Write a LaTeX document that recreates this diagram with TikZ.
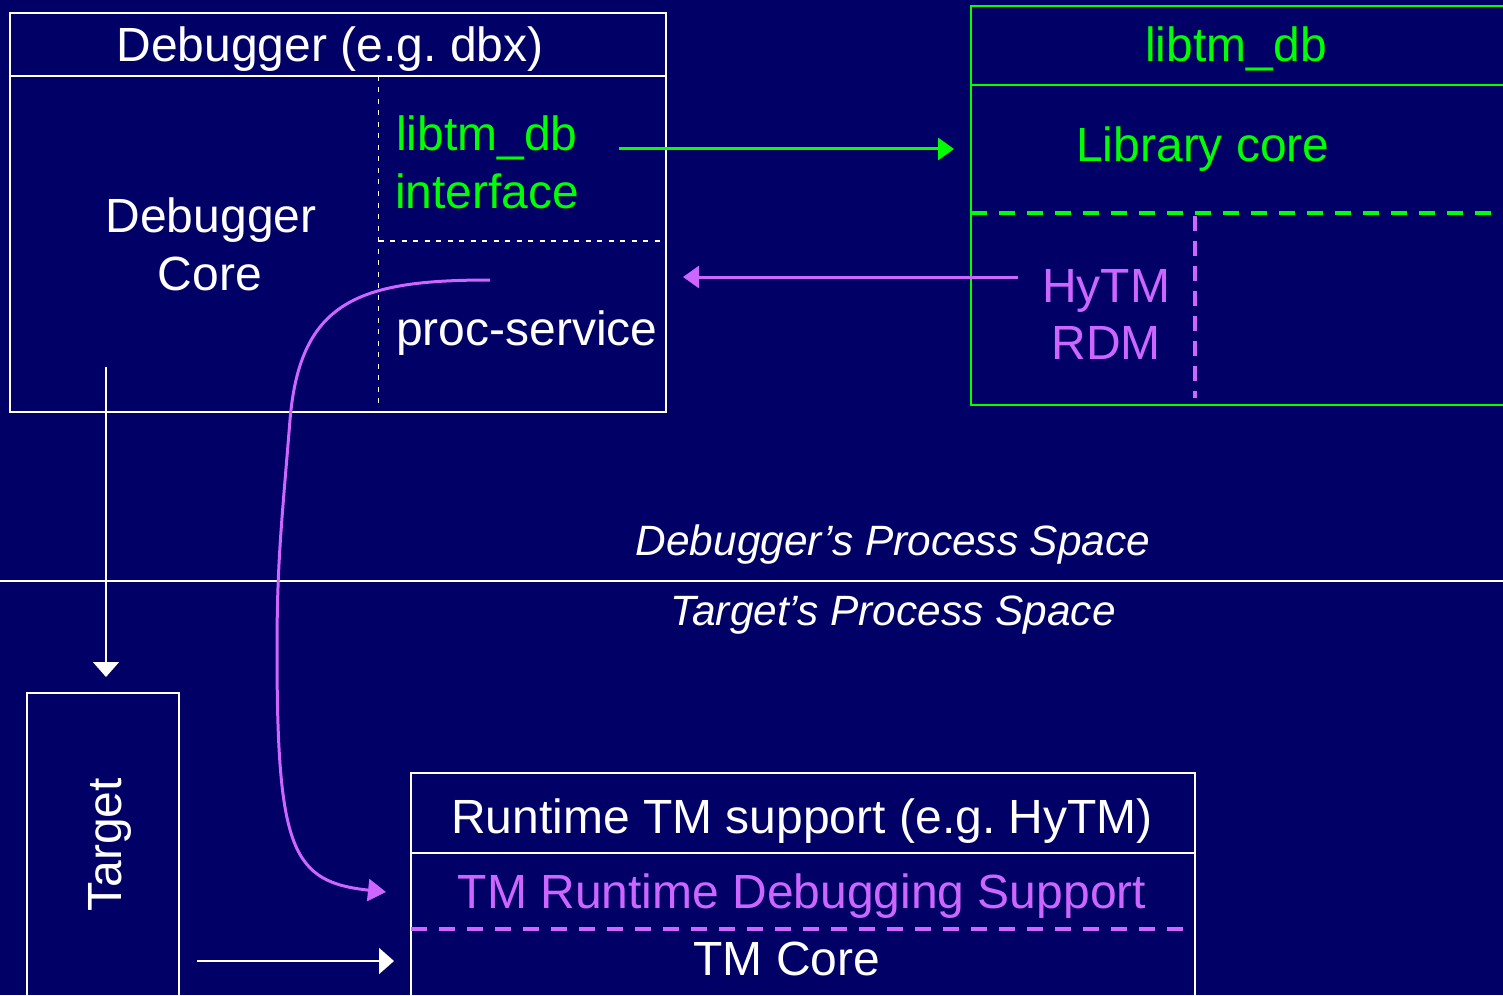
\documentclass[tikz,border=0pt]{standalone}
\usepackage{fontspec}
\setmainfont{Liberation Sans}
\usetikzlibrary{arrows.meta}
\definecolor{bg}{RGB}{0,0,102}
\definecolor{lg}{RGB}{0,255,0}
\definecolor{pu}{RGB}{204,102,255}
\frenchspacing
\begin{document}
\begin{tikzpicture}[x=1pt,y=-1pt,
  txt/.style={inner sep=0pt, anchor=base, font=\fontsize{48}{57}\selectfont},
  itxt/.style={inner sep=0pt, anchor=base, text=white, font=\fontsize{42.4}{50}\selectfont\itshape},
  wbox/.style={draw=white, line width=2pt},
  gbox/.style={draw=lg, line width=2pt},
  wdash/.style={draw=white, line width=1.6pt, dash pattern=on 5pt off 6.5pt},
  gdash/.style={draw=lg, line width=3.8pt, dash pattern=on 16pt off 12pt},
  pdash/.style={draw=pu, line width=3.5pt, dash pattern=on 16pt off 12pt},
  pvdash/.style={draw=pu, line width=3.5pt, dash pattern=on 15pt off 10pt},
  warrow/.style={draw=white, line width=1.6pt, -{Triangle[length=15pt,width=26pt]}},
  garrow/.style={draw=lg, line width=3pt, -{Triangle[length=16pt,width=22pt]}},
  parrow/.style={draw=pu, line width=3pt, -{Triangle[length=16pt,width=22pt]}},
  pcurve/.style={draw=pu, line width=3pt, -{Triangle[length=18pt,width=22pt]}}
]
\fill[bg] (0,0) rectangle (1503,995);
\useasboundingbox (0,0) rectangle (1503,995);
\begin{scope}
\clip (0,0) rectangle (1503,995);

% Debugger box
\draw[wbox] (10,13) rectangle (666,412);
\draw[wbox] (10,76) -- (666,76);
\draw[wdash] (378.5,76) -- (378.5,407);
\draw[wdash] (378.5,241) -- (665,241);

\node[txt, text=white] (dbgtitle) at (330,62) {Debugger (e.g. dbx)};
\node[txt, text=white] (core1) at (211,232) {Debugger};
\node[txt, text=white] (core2) at (210,290) {Core};
\node[txt, text=lg, anchor=base west] (ifc1) at (396,151) {libtm\_db};
\node[txt, text=lg, anchor=base west] (ifc2) at (395,208) {interface};
\node[txt, text=white, anchor=base west] (proc) at (396,345) {proc-service};

% libtm_db box
\draw[gbox] (970.5,6) rectangle (1520,405);
\draw[gbox] (970.5,85.5) -- (1520,85.5);
\draw[gdash] (970.5,213) -- (1510,213);
\draw[pvdash] (1195,216) -- (1195,398);

\node[txt, text=lg] (libtitle) at (1236,62) {libtm\_db};
\node[txt, text=lg] (libcore) at (1203,162) {Library core};
\node[txt, text=pu] (rdm1) at (1106,302) {HyTM};
\node[txt, text=pu] (rdm2) at (1106,359) {RDM};

% process space separator
\draw[draw=white, line width=2pt] (0,581) -- (1503,581);
\node[itxt] (dps) at (893,555) {Debugger’s Process Space};
\node[itxt] (tps) at (893,625) {Target’s Process Space};

% Target box
\draw[wbox] (27,693) rectangle (179,1010);
\node[txt, text=white, rotate=90] (target) at (121,845) {Target};

% Runtime box
\draw[wbox] (410.5,773) rectangle (1194.5,1010);
\draw[wbox] (410.5,853) -- (1194.5,853);
\draw[pdash] (411,929) -- (1185,929);
\node[txt, text=white] (rt) at (802,833) {Runtime TM support (e.g. HyTM)};
\node[txt, text=pu] (rtdbg) at (802,908) {TM Runtime Debugging Support};
\node[txt, text=white] (tmcore) at (787,975) {TM Core};

% connector endpoints
\coordinate (gA) at (619,149);
\coordinate (gB) at (954,149);
\coordinate (pA) at (1018,277);
\coordinate (pB) at (683,277);
\coordinate (wA) at (106,367);
\coordinate (wB) at (106,677);
\coordinate (rA) at (197,961);
\coordinate (rB) at (394,961);
\coordinate (cA) at (490,280);
\coordinate (cM1) at (290,420);
\coordinate (cM2) at (277,650);
\coordinate (cB) at (386,892);

\draw[garrow] (gA) -- (gB);
\draw[parrow] (pA) -- (pB);
\draw[warrow] (wA) -- (wB);
\draw[warrow] (rA) -- (rB);
\draw[pcurve] (cA) .. controls (360,280) and (300,300) .. (cM1)
  .. controls (282,520) and (277,560) .. (cM2)
  .. controls (277,850) and (292,882) .. (cB);
\end{scope}
\end{tikzpicture}
\end{document}
